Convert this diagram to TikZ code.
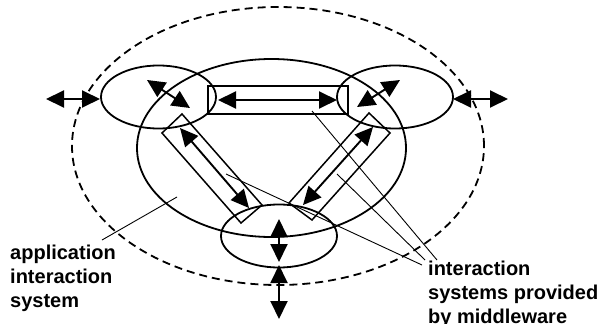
\documentclass[tikz,border=0pt]{standalone}
\usepackage{fontspec}
\setmainfont{Liberation Sans}
\usetikzlibrary{arrows.meta,positioning}

\begin{document}
\begin{tikzpicture}[
        x=1pt, y=-1pt,
        >={Triangle[length=18pt,width=17pt]},
        ring/.style={line width=1.8pt},
        pipe/.style={line width=1.5pt},
        flow/.style={<->, line width=1.9pt},
        leader/.style={line width=0.9pt},
        lbl/.style={font=\fontsize{20}{24}\selectfont\bfseries, align=left, inner sep=0pt, anchor=base west},
    ]
    \useasboundingbox (0,0) rectangle (600,324);

    % Ellipse centres
    \coordinate (env)  at (278,146);
    \coordinate (core) at (271.5,148);
    \coordinate (appL) at (158.5,97);
    \coordinate (appR) at (395,97);
    \coordinate (appB) at (279,236);

    % Environment (dashed) and application interaction system
    \draw[ring, dash pattern=on 8pt off 5pt] (env) ellipse [x radius=206pt, y radius=139pt];
    \draw[ring] (core) ellipse [x radius=134.5pt, y radius=89pt];

    % Applications
    \draw[ring] (appL) ellipse [x radius=57.5pt, y radius=31.5pt];
    \draw[ring] (appR) ellipse [x radius=58pt, y radius=31.5pt];
    \draw[ring] (appB) ellipse [x radius=58pt, y radius=31.5pt];

    % Middleware channels
    \draw[pipe] (208,86) rectangle (348,114);
    \draw[pipe] (162,133) -- (182,114) -- (262,205) -- (241,223) -- cycle;
    \draw[pipe] (289,203) -- (369,113) -- (390,133) -- (312,220) -- cycle;

    % Interactions inside the channels
    \draw[flow] (218,100) -- (337,100);
    \draw[flow] (180,128) -- (249,208);
    \draw[flow] (303,205) -- (373,127);

    % Interactions inside the applications
    \draw[flow] (147,80) -- (190,108);
    \draw[flow] (357,107) -- (400,80);
    \draw[flow] (279,219) -- (279,262);

    % Interactions with the environment
    \draw[flow] (46,99) -- (100,99);
    \draw[flow] (453,99) -- (508,99);
    \draw[flow] (279,265) -- (279,319);

    % Labels (base = last line)
    \node[lbl] (applabel) at (10,307) {application\\interaction\\system};
    \node[lbl] (mwlabel) at (428,323) {interaction\\systems provided\\by middleware};

    % Leader lines
    \draw[leader] (102,240) -- (177,197);
    \draw[leader] (312,111) -- (437,260);
    \draw[leader] (337,174) -- (425,260);
    \draw[leader] (226,174) -- (422,265);
\end{tikzpicture}
\end{document}
